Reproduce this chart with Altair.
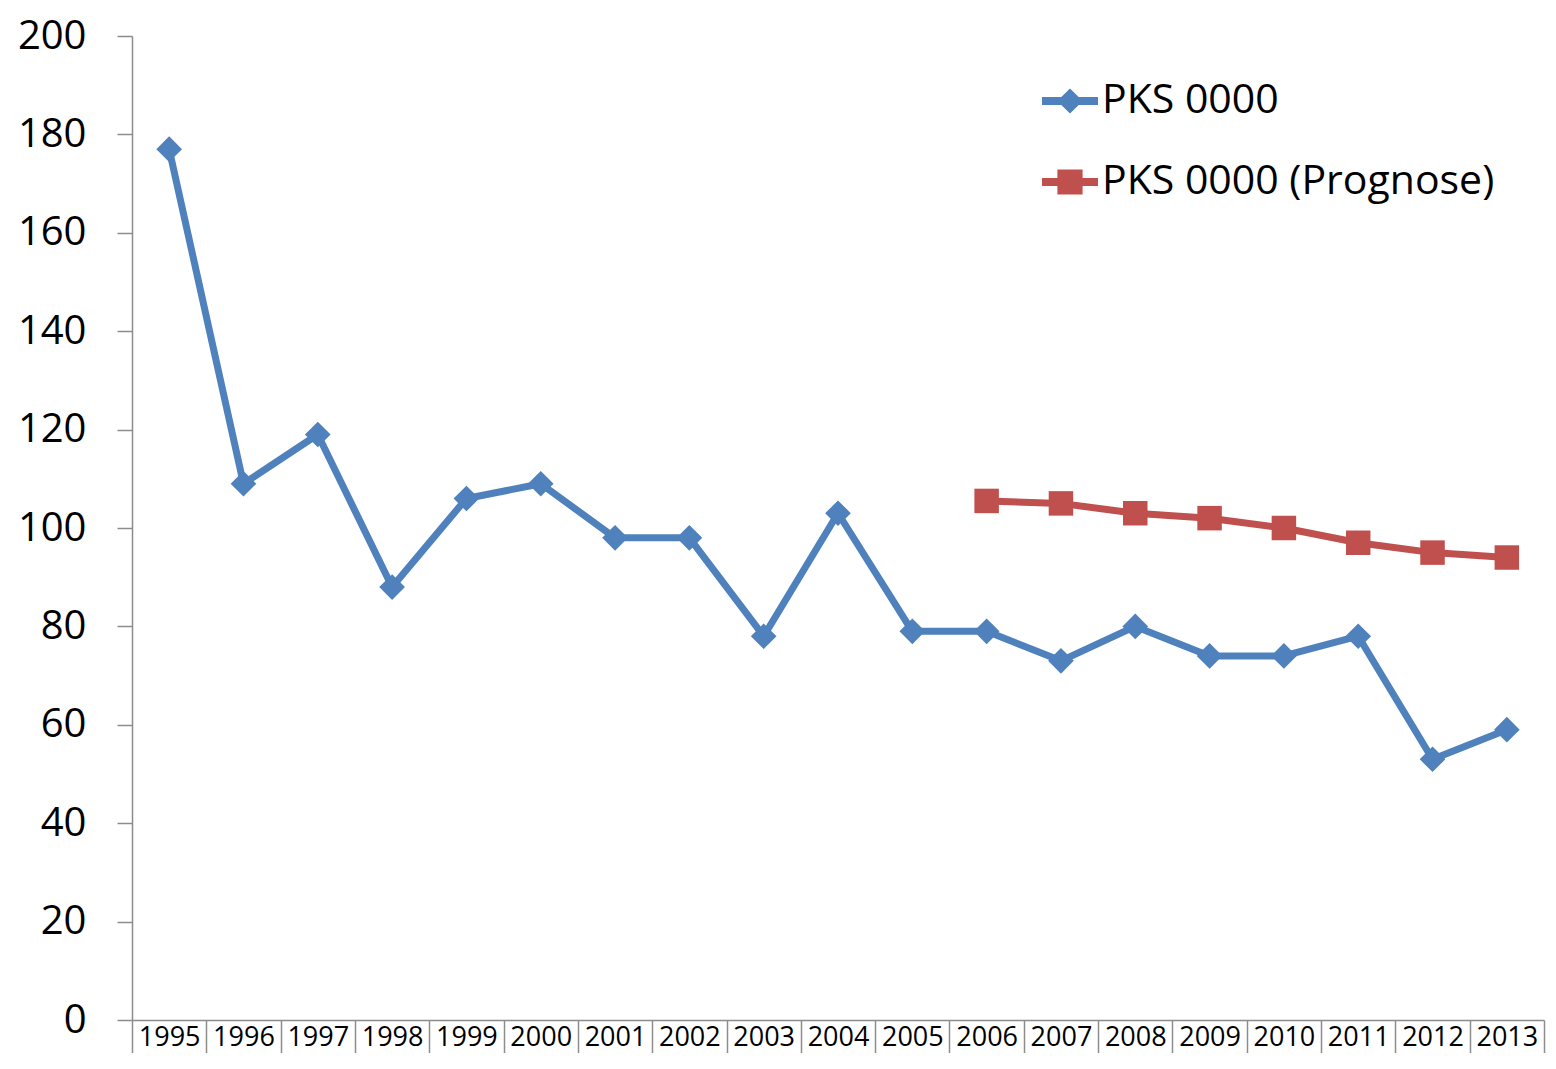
import altair as alt
import pandas as pd

years = ["1995", "1996", "1997", "1998", "1999", "2000", "2001", "2002", "2003", "2004",
         "2005", "2006", "2007", "2008", "2009", "2010", "2011", "2012", "2013"]
pks_values = [177, 109, 119, 88, 106, 109, 98, 98, 78, 103, 79, 79, 73, 80, 74, 74, 78, 53, 59]
prog_years = ["2006", "2007", "2008", "2009", "2010", "2011", "2012", "2013"]
prog_values = [105.5, 105, 103, 102, 100, 97, 95, 94]
y_ticks = [0, 20, 40, 60, 80, 100, 120, 140, 160, 180, 200]

S1 = "PKS 0000"
S2 = "PKS 0000 (Prognose)"
BLUE = "#4F81BD"
RED = "#C0504D"
GRAY = "#8C8C8C"
FONT = "Open Sans"

rows = [{"year": y, "value": v, "series": S1} for y, v in zip(years, pks_values)]
rows += [{"year": y, "value": v, "series": S2} for y, v in zip(prog_years, prog_values)]
df = pd.DataFrame(rows)

color_scale = alt.Scale(domain=[S1, S2], range=[BLUE, RED])

x_enc = alt.X(
    "year:N",
    bandPosition=0.5,
    scale=alt.Scale(type="band", domain=years, paddingInner=0, paddingOuter=0),
    axis=alt.Axis(
        title=None, labelAngle=0, tickBand="extent", tickSize=33, tickColor=GRAY,
        tickWidth=1.5, domainColor=GRAY, domainWidth=1.5, labelFont=FONT,
        labelFontSize=27, labelColor="black", labelPadding=-29, labelOverlap=False,
    ),
)
y_enc = alt.Y(
    "value:Q",
    scale=alt.Scale(domain=[0, 200], nice=False, zero=True),
    axis=alt.Axis(
        title=None, values=y_ticks, grid=False, tickSize=15, tickColor=GRAY,
        tickWidth=1.5, domainColor=GRAY, domainWidth=1.5, labelFont=FONT,
        labelFontSize=40, labelColor="black", labelPadding=31, labelOverlap=False,
    ),
)

diamond_path = ("M-1,-0.14L-0.31,-0.14L0,-0.45L0.31,-0.14L1,-0.14L1,0.14L0.31,0.14"
                "L0,0.45L-0.31,0.14L-1,0.14Z")
square_path = ("M-1,-0.14L-0.45,-0.14L-0.45,-0.45L0.45,-0.45L0.45,-0.14L1,-0.14L1,0.14"
               "L0.45,0.14L0.45,0.45L-0.45,0.45L-0.45,0.14L-1,0.14Z")

legend = alt.Legend(
    title=None, orient="none", legendX=910, legendY=37, direction="vertical",
    labelFont=FONT, labelFontSize=41, labelColor="black", symbolSize=3136,
    symbolStrokeWidth=0, symbolOpacity=1, labelOffset=4, rowPadding=33, padding=0,
    labelLimit=600,
)

base = alt.Chart(df)
lines = base.mark_line(strokeWidth=7, strokeJoin="round", strokeCap="round").encode(
    x=x_enc, y=y_enc,
    color=alt.Color("series:N", scale=color_scale, legend=None),
    detail="series:N",
)
pts1 = base.transform_filter(alt.datum.series == S1).mark_point(
    filled=True, size=660, opacity=1, shape="diamond").encode(
    x=x_enc, y=y_enc, color=alt.Color("series:N", scale=color_scale, legend=None))
pts2 = base.transform_filter(alt.datum.series == S2).mark_point(
    filled=True, size=600, opacity=1, shape="square").encode(
    x=x_enc, y=y_enc, color=alt.Color("series:N", scale=color_scale, legend=None))

legend_layer = base.transform_filter("datum.value < -1").mark_point(
    filled=True, size=3136, opacity=1).encode(
    x=x_enc, y=y_enc,
    color=alt.Color("series:N", scale=color_scale, legend=legend),
    shape=alt.Shape("series:N", scale=alt.Scale(domain=[S1, S2], range=[diamond_path, square_path]),
                    legend=legend),
)

chart = alt.layer(lines, pts1, pts2, legend_layer).resolve_legend(
    color="independent", shape="independent"
).properties(
    width=1412, height=984,
    background="white",
    autosize=alt.AutoSizeParams(type="none"),
    padding={"left": 124, "top": 28, "right": 4, "bottom": 33},
).configure_view(stroke=None)

chart.save("out.html", embed_options={"renderer": "svg", "actions": False})
